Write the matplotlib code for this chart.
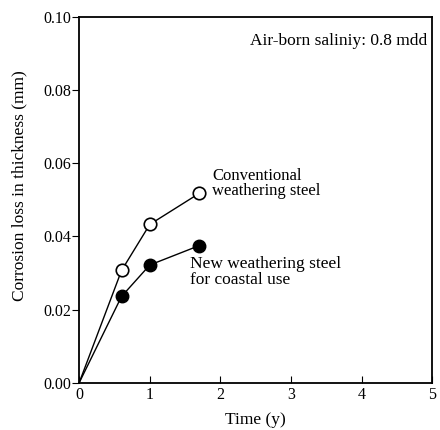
import matplotlib
matplotlib.use('Agg')
import matplotlib.pyplot as plt

plt.rcParams['font.family'] = ['Liberation Serif', 'DejaVu Serif']

time_conv = [0, 0.6, 1.0, 1.7]
loss_conv = [0, 0.0307, 0.0433, 0.0518]
time_new = [0, 0.6, 1.0, 1.7]
loss_new = [0, 0.0236, 0.0322, 0.0375]

xticks = [0, 1, 2, 3, 4, 5]
yticks = [0.00, 0.02, 0.04, 0.06, 0.08, 0.10]

fig = plt.figure(figsize=(4.4, 4.3), dpi=100)
ax = fig.add_axes([0.18, 0.11, 0.802, 0.85])

ax.plot(time_conv, loss_conv, '-', color='black', lw=1.0)
ax.plot(time_conv[1:], loss_conv[1:], 'o', color='black', mfc='white', ms=9, mew=1.2)
ax.plot(time_new, loss_new, '-', color='black', lw=1.0)
ax.plot(time_new[1:], loss_new[1:], 'o', color='black', mfc='black', ms=9)

ax.set_xlim(0, 5)
ax.set_ylim(0, 0.10)
ax.set_xticks(xticks)
ax.set_xticklabels([str(t) for t in xticks])
ax.set_yticks(yticks)
ax.set_yticklabels(['%.2f' % t for t in yticks])
ax.tick_params(axis='x', direction='in', length=5, labelsize=11.5, pad=3)
ax.tick_params(axis='y', direction='out', length=5, labelsize=11.5, pad=1)
for s in ax.spines.values():
    s.set_linewidth(1.3)

ax.set_xlabel('Time (y)', fontsize=12.5)
ax.set_ylabel('Corrosion loss in thickness (mm)', fontsize=12.5)
ax.xaxis.set_label_coords(0.5, -0.08)
ax.yaxis.set_label_coords(-0.147, 0.54)

ax.text(4.93, 0.0935, 'Air-born saliniy: 0.8 mdd', ha='right', va='center', fontsize=12.5)
ax.text(1.88, 0.0545, 'Conventional\nweathering steel', ha='left', va='center',
        fontsize=12, linespacing=0.95)
ax.text(1.57, 0.0303, 'New weathering steel\nfor coastal use', ha='left', va='center',
        fontsize=12.5, linespacing=0.95)

fig.savefig('out.png', dpi=100)
